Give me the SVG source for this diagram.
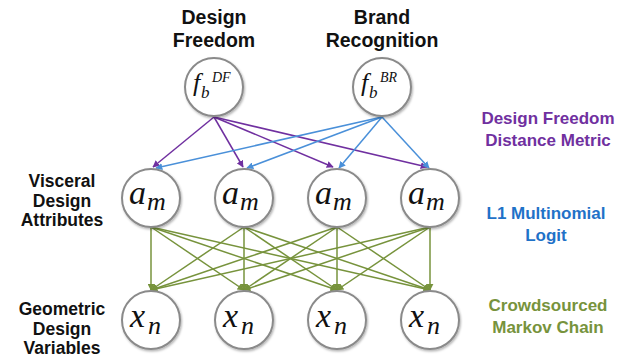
<svg xmlns="http://www.w3.org/2000/svg" width="617" height="357" viewBox="0 0 617 357">
<defs>
<marker id="ap" viewBox="0 0 10 10" refX="9" refY="5" markerWidth="7" markerHeight="7" markerUnits="userSpaceOnUse" orient="auto"><path d="M0,0 L10,5 L0,10 z" fill="#7030A0"/></marker>
<marker id="ab" viewBox="0 0 10 10" refX="9" refY="5" markerWidth="7" markerHeight="7" markerUnits="userSpaceOnUse" orient="auto"><path d="M0,0 L10,5 L0,10 z" fill="#4A90D9"/></marker>
<marker id="ag" viewBox="0 0 10 10" refX="9" refY="5" markerWidth="7" markerHeight="7" markerUnits="userSpaceOnUse" orient="auto"><path d="M0,0 L10,5 L0,10 z" fill="#77933C"/></marker>
<filter id="sh" x="-20%" y="-20%" width="150%" height="150%"><feDropShadow dx="1" dy="1.5" stdDeviation="1.2" flood-color="#000" flood-opacity="0.3"/></filter>
</defs>
<style>
.node{fill:#fff;stroke:#8a8a8a;stroke-width:2;filter:url(#sh)}
.lbl{font-family:"Liberation Sans",Arial,sans-serif;font-weight:bold;text-anchor:middle}
.top{font-size:19.5px;fill:#111}
.left{font-size:17.5px;fill:#111}
.right{font-size:17px}
.math{font-family:"Liberation Serif","DejaVu Serif",serif;font-style:italic;fill:#111}
.p{stroke:#7030A0;stroke-width:1.5;fill:none;marker-end:url(#ap)}
.b{stroke:#4A90D9;stroke-width:1.5;fill:none;marker-end:url(#ab)}
.g{stroke:#77933C;stroke-width:1.5;fill:none;marker-end:url(#ag)}
</style>
<rect width="617" height="357" fill="#fff"/>
<g id="labels">
<text class="lbl top" x="214" y="24">Design</text>
<text class="lbl top" x="214" y="47">Freedom</text>
<text class="lbl top" x="382" y="24">Brand</text>
<text class="lbl top" x="382" y="47">Recognition</text>
<text class="lbl left" x="62" y="187">Visceral</text>
<text class="lbl left" x="62" y="206.5">Design</text>
<text class="lbl left" x="62" y="226">Attributes</text>
<text class="lbl left" x="62" y="315">Geometric</text>
<text class="lbl left" x="62" y="334.5">Design</text>
<text class="lbl left" x="62" y="354">Variables</text>
<text class="lbl right" x="548" y="124" fill="#7030A0">Design Freedom</text>
<text class="lbl right" x="548" y="146" fill="#7030A0">Distance Metric</text>
<text class="lbl right" x="546" y="219" fill="#1F72C8">L1 Multinomial</text>
<text class="lbl right" x="546" y="241" fill="#1F72C8">Logit</text>
<text class="lbl right" x="548" y="311" fill="#77933C">Crowdsourced</text>
<text class="lbl right" x="548" y="333" fill="#77933C">Markov Chain</text>
</g>
<g id="connectors">
<line class="p" x1="214" y1="117" x2="153" y2="167"/>
<line class="p" x1="214" y1="117" x2="243" y2="167"/>
<line class="p" x1="214" y1="117" x2="333" y2="167"/>
<line class="p" x1="214" y1="117" x2="427" y2="167"/>
<line class="b" x1="382" y1="117" x2="156" y2="168"/>
<line class="b" x1="382" y1="117" x2="247" y2="168"/>
<line class="b" x1="382" y1="117" x2="339" y2="168"/>
<line class="b" x1="382" y1="117" x2="429" y2="168"/>
<line class="g" x1="151" y1="227" x2="151" y2="290"/>
<line class="g" x1="151" y1="227" x2="244" y2="290"/>
<line class="g" x1="151" y1="227" x2="337" y2="290"/>
<line class="g" x1="151" y1="227" x2="430" y2="290"/>
<line class="g" x1="244" y1="227" x2="151" y2="290"/>
<line class="g" x1="244" y1="227" x2="244" y2="290"/>
<line class="g" x1="244" y1="227" x2="337" y2="290"/>
<line class="g" x1="244" y1="227" x2="430" y2="290"/>
<line class="g" x1="337" y1="227" x2="151" y2="290"/>
<line class="g" x1="337" y1="227" x2="244" y2="290"/>
<line class="g" x1="337" y1="227" x2="337" y2="290"/>
<line class="g" x1="337" y1="227" x2="430" y2="290"/>
<line class="g" x1="430" y1="227" x2="151" y2="290"/>
<line class="g" x1="430" y1="227" x2="244" y2="290"/>
<line class="g" x1="430" y1="227" x2="337" y2="290"/>
<line class="g" x1="430" y1="227" x2="430" y2="290"/>
</g>
<g id="f-df"><circle class="node" cx="214" cy="87" r="29"/>
<text class="math" x="193" y="91" font-size="26">f</text><text class="math" x="201" y="98" font-size="17">b</text><text class="math" x="212" y="82" font-size="14">DF</text></g>
<g id="f-br"><circle class="node" cx="382" cy="87" r="29"/>
<text class="math" x="361" y="91" font-size="26">f</text><text class="math" x="369" y="98" font-size="17">b</text><text class="math" x="380" y="82" font-size="14">BR</text></g>
<g id="a1"><circle class="node" cx="151" cy="198" r="29"/><text class="math" x="129" y="204" font-size="34">a</text><text class="math" x="147" y="210" font-size="26">m</text></g>
<g id="a2"><circle class="node" cx="244" cy="198" r="29"/><text class="math" x="222" y="204" font-size="34">a</text><text class="math" x="240" y="210" font-size="26">m</text></g>
<g id="a3"><circle class="node" cx="337" cy="198" r="29"/><text class="math" x="315" y="204" font-size="34">a</text><text class="math" x="333" y="210" font-size="26">m</text></g>
<g id="a4"><circle class="node" cx="430" cy="198" r="29"/><text class="math" x="408" y="204" font-size="34">a</text><text class="math" x="426" y="210" font-size="26">m</text></g>
<g id="x1"><circle class="node" cx="151" cy="320" r="29"/><text class="math" x="130" y="327" font-size="34">x</text><text class="math" x="148" y="334" font-size="26">n</text></g>
<g id="x2"><circle class="node" cx="244" cy="320" r="29"/><text class="math" x="223" y="327" font-size="34">x</text><text class="math" x="241" y="334" font-size="26">n</text></g>
<g id="x3"><circle class="node" cx="337" cy="320" r="29"/><text class="math" x="316" y="327" font-size="34">x</text><text class="math" x="334" y="334" font-size="26">n</text></g>
<g id="x4"><circle class="node" cx="430" cy="320" r="29"/><text class="math" x="409" y="327" font-size="34">x</text><text class="math" x="427" y="334" font-size="26">n</text></g>
</svg>
